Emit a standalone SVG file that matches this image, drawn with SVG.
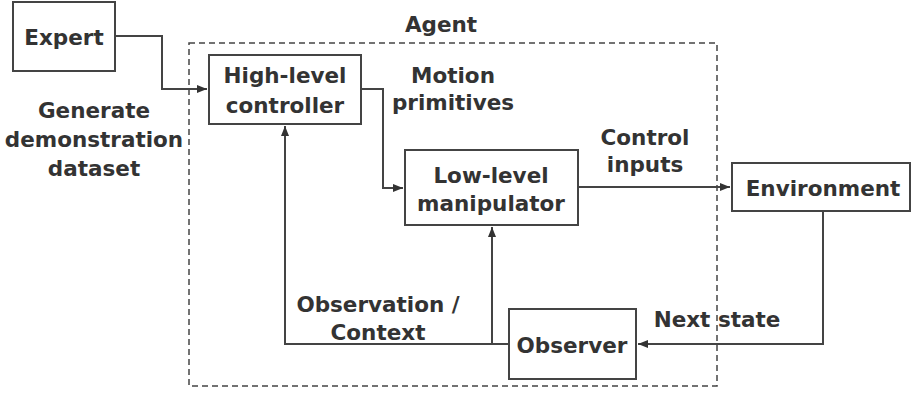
<svg xmlns="http://www.w3.org/2000/svg" width="911" height="393" viewBox="0 0 911 393">
<style>
.box{fill:#fff;stroke:#444;stroke-width:2}
.t{font-family:"DejaVu Sans",sans-serif;font-weight:bold;font-size:21.5px;fill:#333;text-anchor:middle}
.c{fill:none;stroke:#444;stroke-width:2}
</style>
<defs>
<marker id="ah" markerWidth="10" markerHeight="8" refX="10" refY="4" orient="auto" markerUnits="userSpaceOnUse">
<path d="M0,0 L10,4 L0,8 Z" fill="#333"/>
</marker>
</defs>
<rect x="0" y="0" width="911" height="393" fill="#fff"/>
<g id="agent">
<rect x="189" y="43" width="528" height="343" fill="none" stroke="#444" stroke-width="1.5" stroke-dasharray="6,4"/>
<text class="t" x="441" y="32">Agent</text>
</g>
<g id="connectors">
<path class="c" d="M115,36 H162 V89 H207" marker-end="url(#ah)"/>
<path class="c" d="M361,89 H383 V188 H403" marker-end="url(#ah)"/>
<path class="c" d="M578,187 H730" marker-end="url(#ah)"/>
<path class="c" d="M823,211 V344 H638" marker-end="url(#ah)"/>
<path class="c" d="M509,344 H285 V126" marker-end="url(#ah)"/>
<path class="c" d="M492,344 V227" marker-end="url(#ah)"/>
</g>
<g id="expert">
<rect class="box" x="13" y="2" width="102" height="69"/>
<text class="t" x="64" y="45">Expert</text>
</g>
<g id="high-level-controller">
<rect class="box" x="209" y="55" width="152" height="69"/>
<text class="t" x="285" y="83">High-level</text>
<text class="t" x="285" y="113">controller</text>
</g>
<g id="low-level-manipulator">
<rect class="box" x="405" y="150" width="173" height="75"/>
<text class="t" x="491" y="183">Low-level</text>
<text class="t" x="491" y="211">manipulator</text>
</g>
<g id="environment">
<rect class="box" x="732" y="163" width="178" height="48"/>
<text class="t" x="823" y="196">Environment</text>
</g>
<g id="observer">
<rect class="box" x="509" y="309" width="127" height="70"/>
<text class="t" x="572" y="353">Observer</text>
</g>
<g id="labels">
<text class="t" x="94" y="118">Generate</text>
<text class="t" x="94" y="147">demonstration</text>
<text class="t" x="94" y="176">dataset</text>
<text class="t" x="453" y="83">Motion</text>
<text class="t" x="453" y="110">primitives</text>
<text class="t" x="645" y="145">Control</text>
<text class="t" x="645" y="172">inputs</text>
<text class="t" x="378" y="312">Observation /</text>
<text class="t" x="378" y="340">Context</text>
<text class="t" x="717" y="327">Next state</text>
</g>
</svg>
